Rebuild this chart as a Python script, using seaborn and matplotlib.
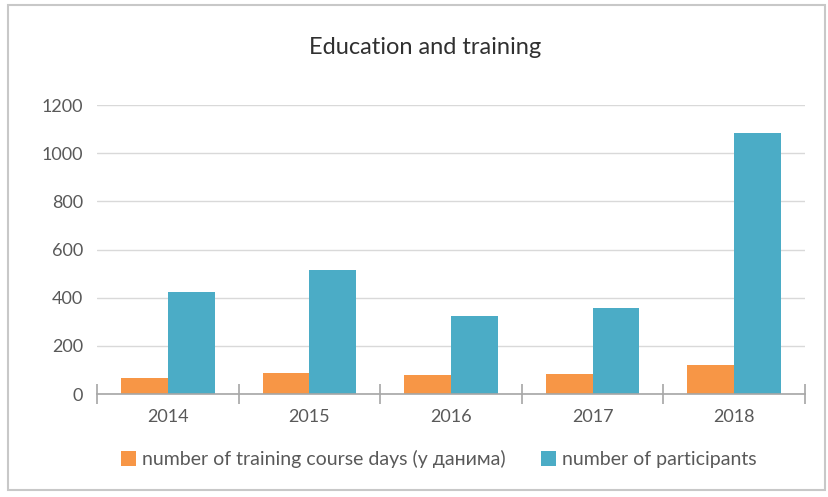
import pandas as pd
import matplotlib.pyplot as plt
import seaborn as sns
from matplotlib.patches import Rectangle, Patch

years = ["2014", "2015", "2016", "2017", "2018"]
course_days = [66, 88, 78, 85, 120]
participants = [425, 515, 324, 358, 1083]
series_names = ["number of training course days (у данима)", "number of participants"]
colors = ["#F79646", "#4BACC6"]

df = pd.DataFrame({
    "year": years * 2,
    "value": course_days + participants,
    "series": [series_names[0]] * len(years) + [series_names[1]] * len(years),
})

sns.set_style("white")
plt.rcParams["font.family"] = ["Lato", "DejaVu Sans"]

fig = plt.figure(figsize=(8.29, 4.97), dpi=100)
# outer chart frame
fig.patches.append(Rectangle((0.010, 0.014), 0.985, 0.975, transform=fig.transFigure,
                             fill=False, edgecolor="#c8c8c8", linewidth=1.5))
ax = fig.add_axes([0.117, 0.2072, 0.854, 0.5815])

sns.barplot(data=df, x="year", y="value", hue="series", palette=colors,
            width=0.66, saturation=1, linewidth=0, ax=ax, legend=False)

ax.set_ylim(0, 1200)
ax.set_xlim(-0.5, 4.5)
ax.set_yticks(range(0, 1201, 200))
ax.yaxis.grid(True, color="#d9d9d9", linewidth=1)
ax.set_axisbelow(True)
for s in ["left", "right", "top"]:
    ax.spines[s].set_visible(False)
ax.spines["bottom"].set_color("#a6a6a6")
ax.spines["bottom"].set_linewidth(1.2)

ax.set_xlabel("")
ax.set_ylabel("")
ax.tick_params(axis="y", length=0, labelsize=13, labelcolor="#595959", pad=10)
ax.tick_params(axis="x", which="major", length=0, labelsize=13, labelcolor="#595959", pad=11)
ax.set_xticks([i - 0.5 for i in range(len(years) + 1)], minor=True)
ax.tick_params(axis="x", which="minor", bottom=True, direction="inout", length=14,
               color="#a6a6a6", width=1.2)

fig.text(0.513, 0.905, "Education and training", ha="center", va="center",
         fontsize=17, color="#303030")

handles = [Patch(facecolor=c, edgecolor="none") for c in colors]
fig.legend(handles, series_names, loc="center", bbox_to_anchor=(0.529, 0.076), ncol=2,
           frameon=False, fontsize=14, labelcolor="#595959", handlelength=0.8,
           handleheight=0.8, handletextpad=0.3, columnspacing=1.8)

fig.savefig("out.png", dpi=100)
